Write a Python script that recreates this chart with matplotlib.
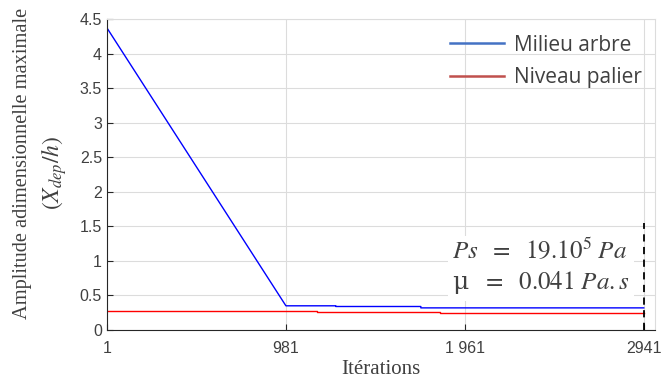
import numpy as np
import matplotlib.pyplot as plt

# Milieu arbre (blue) and Niveau palier (red)
iter_blue = [1, 981, 1254, 1254, 1720, 1720, 2941]
amp_blue = [4.37, 0.35, 0.35, 0.34, 0.34, 0.32, 0.32]
iter_red = [1, 1150, 1150, 1824, 1824, 2941]
amp_red = [0.275, 0.275, 0.255, 0.255, 0.245, 0.245]

xticks = [1, 981, 1961, 2941]
xtick_labels = ["1", "981", "1 961", "2941"]
yticks = [0, 0.5, 1, 1.5, 2, 2.5, 3, 3.5, 4, 4.5]
ytick_labels = ["0", "0.5", "1", "1.5", "2", "2.5", "3", "3.5", "4", "4.5"]

plt.rcParams['mathtext.fontset'] = 'stix'
plt.rcParams['font.family'] = 'sans-serif'
plt.rcParams['font.sans-serif'] = ['Liberation Sans', 'DejaVu Sans']

fig = plt.figure(figsize=(6.62, 3.80), dpi=100)
ax = fig.add_axes([0.1616, 0.1316, 0.8274, 0.8184])

ax.plot(iter_blue, amp_blue, color='blue', lw=1.0)
ax.plot(iter_red, amp_red, color='red', lw=1.0)
ax.vlines(2941, 0, 1.55, colors='black', linestyles=(0, (4, 3)), lw=1.3)

# legend drawn as separate proxy lines
h1, = ax.plot([], [], color='#4472C4', lw=1.8, label='Milieu arbre')
h2, = ax.plot([], [], color='#C0504D', lw=1.8, label='Niveau palier')
leg = ax.legend(handles=[h1, h2], loc='upper right', frameon=False,
                bbox_to_anchor=(1.0, 0.99), handlelength=2.6, handletextpad=0.5,
                labelspacing=0.55, borderaxespad=0.2,
                prop={'family': 'Open Sans', 'size': 15})
for t in leg.get_texts():
    t.set_color('#404040')

ax.text(1890, 0.91, "$Ps\\ \\ =\\ \\ 19.10^{5}\\ Pa$\n\u03bc $\\ =\\ \\ 0.041\\ Pa.s$",
        ha='left', va='center', fontsize=18, color='#404040',
        family='DejaVu Serif', linespacing=1.3,
        bbox=dict(facecolor='white', edgecolor='none', pad=3))

ax.set_xlim(1, 3001)
ax.set_ylim(0, 4.5)
ax.set_xticks(xticks)
ax.set_xticklabels(xtick_labels)
ax.set_yticks(yticks)
ax.set_yticklabels(ytick_labels)
ax.tick_params(direction='in', length=4, labelsize=11.5, labelcolor='#404040',
               color='#262626')
ax.tick_params(axis='x', pad=8)
ax.grid(True, color='#dcdcdc', lw=0.8)
ax.set_axisbelow(True)
for s in ['top', 'right']:
    ax.spines[s].set_color('#dcdcdc')
for s in ['left', 'bottom']:
    ax.spines[s].set_color('#262626')

fig.text(0.575, 0.027, "Itérations", family='Liberation Serif', fontsize=15,
         color='#404040', ha='center', va='center')
fig.text(0.034, 0.571, "Amplitude adimensionnelle maximale", family='Liberation Serif',
         fontsize=14.7, color='#404040', rotation=90, ha='center', va='center')
fig.text(0.081, 0.545, "$(X_{dep}/h)$", fontsize=17, color='#404040',
         rotation=90, ha='center', va='center')

fig.savefig('out.png', dpi=100)
